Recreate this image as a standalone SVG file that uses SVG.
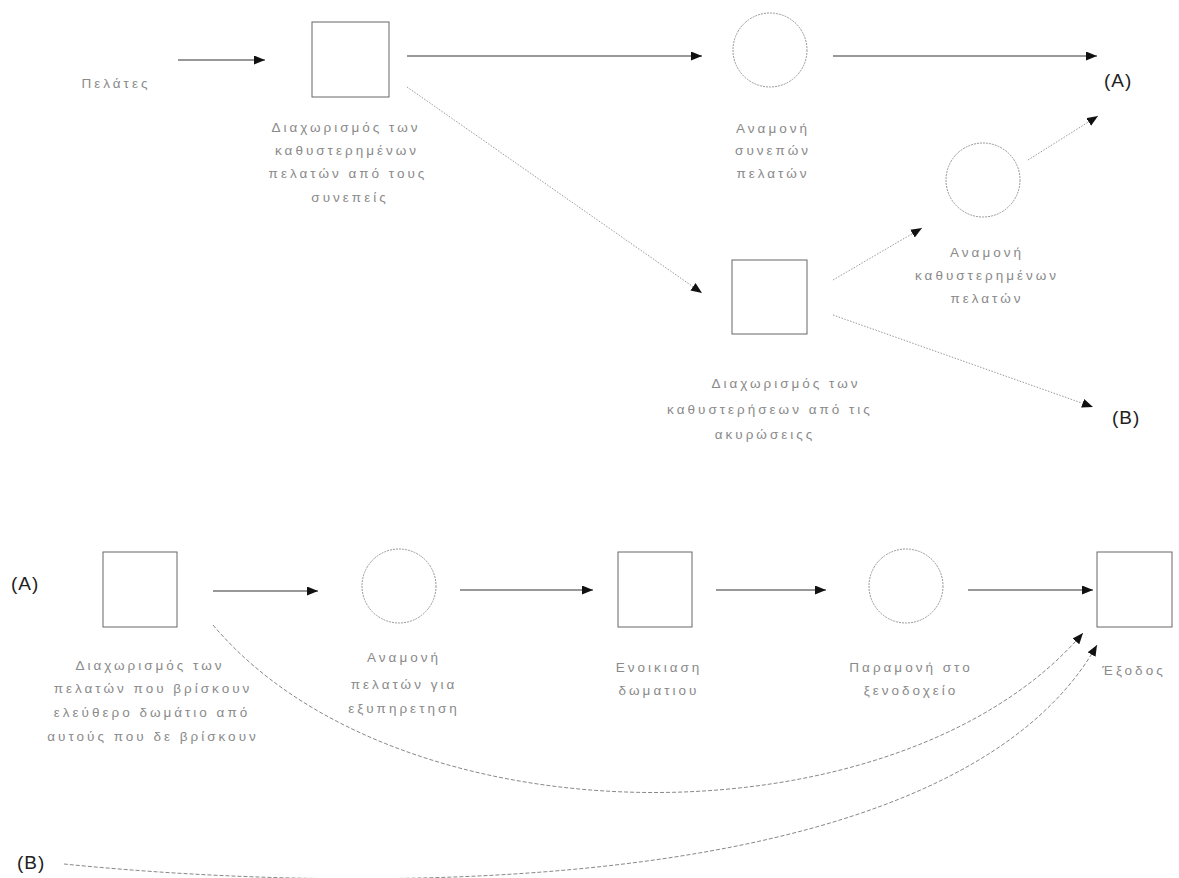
<svg xmlns="http://www.w3.org/2000/svg" width="1179" height="878" viewBox="0 0 1179 878">
<style>
.lbl{font-family:"Liberation Sans",Arial,sans-serif;font-size:13.5px;fill:#8a8a8a;letter-spacing:3px;text-anchor:middle}
.ref{font-family:"Liberation Sans",Arial,sans-serif;font-size:19px;fill:#222;letter-spacing:1px}
.sq{fill:#fff;stroke:#666;stroke-width:1}
.ci{fill:#fff;stroke:#999;stroke-width:1;stroke-dasharray:2 1}
.solid{fill:none;stroke:#333;stroke-width:1.2}
.dot{fill:none;stroke:#999;stroke-width:1;stroke-dasharray:1.5 1.5}
.curve{fill:none;stroke:#888;stroke-width:1;stroke-dasharray:4 2}
</style>
<defs>
<marker id="ah" markerUnits="userSpaceOnUse" markerWidth="12" markerHeight="10" refX="11" refY="4.5" orient="auto">
<path d="M0,0 L11,4.5 L0,9 z" fill="#111"/>
</marker>
</defs>
<rect width="1179" height="878" fill="#fff"/>

<g id="connectors">
<line class="solid" x1="178" y1="60" x2="265" y2="60" marker-end="url(#ah)"/>
<line class="solid" x1="407" y1="56" x2="702" y2="56" marker-end="url(#ah)"/>
<line class="dot" x1="407" y1="87" x2="702" y2="293" marker-end="url(#ah)"/>
<line class="solid" x1="833" y1="56" x2="1097" y2="56" marker-end="url(#ah)"/>
<line class="dot" x1="1028" y1="160" x2="1098" y2="116" marker-end="url(#ah)"/>
<line class="dot" x1="833" y1="280" x2="922" y2="228" marker-end="url(#ah)"/>
<line class="dot" x1="833" y1="315" x2="1093" y2="407" marker-end="url(#ah)"/>
<line class="solid" x1="213" y1="591" x2="318" y2="591" marker-end="url(#ah)"/>
<line class="solid" x1="460" y1="590" x2="593" y2="590" marker-end="url(#ah)"/>
<line class="solid" x1="716" y1="590" x2="826" y2="590" marker-end="url(#ah)"/>
<line class="solid" x1="968" y1="590" x2="1093" y2="590" marker-end="url(#ah)"/>
<path class="curve" d="M213,625 C400,847 900,847 1083,633" marker-end="url(#ah)"/>
<path class="curve" d="M64,864 C350,893 950,905 1097,645" marker-end="url(#ah)"/>
</g>

<g id="n-pelates"><text class="lbl" x="116" y="88">Πελάτες</text></g>

<g id="n-sq1">
<rect class="sq" x="312" y="22" width="77" height="75"/>
<text class="lbl" x="346" y="132">Διαχωρισμός των</text>
<text class="lbl" x="347" y="155">καθυστερημένων</text>
<text class="lbl" x="348" y="178">πελατών από τους</text>
<text class="lbl" x="350" y="202">συνεπείς</text>
</g>

<g id="n-ci1">
<circle class="ci" cx="770" cy="50" r="37"/>
<text class="lbl" x="773" y="133">Αναμονή</text>
<text class="lbl" x="773" y="155">συνεπών</text>
<text class="lbl" x="773" y="178">πελατών</text>
</g>

<g id="n-A1"><text class="ref" x="1104" y="87">(A)</text></g>

<g id="n-ci2">
<circle class="ci" cx="983" cy="180" r="37"/>
<text class="lbl" x="987" y="257">Αναμονή</text>
<text class="lbl" x="987" y="280">καθυστερημένων</text>
<text class="lbl" x="987" y="303">πελατών</text>
</g>

<g id="n-sq2">
<rect class="sq" x="732" y="260" width="75" height="74"/>
<text class="lbl" x="786" y="388">Διαχωρισμός των</text>
<text class="lbl" x="770" y="414">καθυστερήσεων από τις</text>
<text class="lbl" x="765" y="439">ακυρώσειςς</text>
</g>

<g id="n-B1"><text class="ref" x="1112" y="424">(B)</text></g>

<g id="n-A2"><text class="ref" x="11" y="590">(A)</text></g>

<g id="n-sq3">
<rect class="sq" x="103" y="552" width="74" height="75"/>
<text class="lbl" x="150" y="670">Διαχωρισμός των</text>
<text class="lbl" x="153" y="693">πελατών που βρίσκουν</text>
<text class="lbl" x="152" y="717">ελεύθερο δωμάτιο από</text>
<text class="lbl" x="153" y="741">αυτούς που δε βρίσκουν</text>
</g>

<g id="n-ci3">
<circle class="ci" cx="399" cy="586" r="37"/>
<text class="lbl" x="404" y="662">Αναμονή</text>
<text class="lbl" x="404" y="689">πελατών για</text>
<text class="lbl" x="404" y="713">εξυπηρετηση</text>
</g>

<g id="n-sq4">
<rect class="sq" x="618" y="552" width="74" height="75"/>
<text class="lbl" x="659" y="672">Ενοικιαση</text>
<text class="lbl" x="659" y="695">δωματιου</text>
</g>

<g id="n-ci4">
<circle class="ci" cx="906" cy="586" r="37"/>
<text class="lbl" x="911" y="672">Παραμονή στο</text>
<text class="lbl" x="911" y="695">ξενοδοχείο</text>
</g>

<g id="n-sq5">
<rect class="sq" x="1097" y="552" width="75" height="75"/>
<text class="lbl" x="1134" y="675">Έξοδος</text>
</g>

<g id="n-B2"><text class="ref" x="17" y="869">(B)</text></g>
</svg>
